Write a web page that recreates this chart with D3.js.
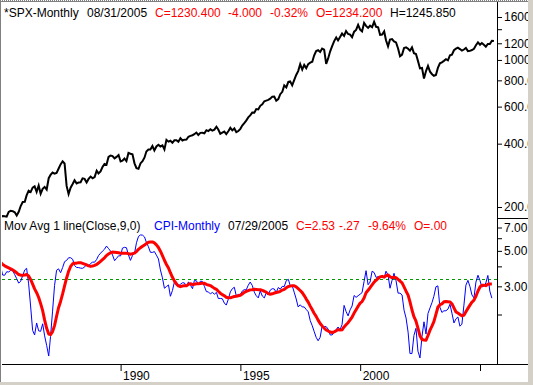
<!DOCTYPE html>
<html>
<head>
<meta charset="utf-8">
<script src="https://cdn.jsdelivr.net/npm/d3@7"></script>
<style>
  body { margin: 0; background: #fff; }
  svg { display: block; }
  text { font-family: "Liberation Sans", Arial, sans-serif; font-size: 12px; }
</style>
</head>
<body>
<script>
// monthly closes, Jan 1985 .. Aug 2005
var spxClose = [
  179.63, 181.18, 180.66, 179.83, 189.55, 191.85, 190.92, 188.63, 182.08, 189.82, 202.17, 211.28,
  211.78, 226.92, 238.90, 235.52, 247.35, 250.84, 236.12, 252.93, 231.32, 243.98, 249.22, 242.17,
  274.08, 284.20, 291.70, 288.36, 290.10, 304.00, 318.66, 329.80, 321.83, 251.79, 230.30, 247.08,
  257.07, 267.82, 258.89, 261.33, 262.16, 273.50, 272.02, 261.52, 271.91, 278.97, 273.70, 277.72,
  297.47, 288.86, 294.87, 309.64, 320.52, 317.98, 346.08, 351.45, 349.15, 340.36, 345.99, 353.40,
  329.08, 331.89, 339.94, 330.80, 361.23, 358.02, 356.15, 322.56, 306.05, 304.00, 322.22, 330.22,
  343.93, 367.07, 375.22, 375.34, 389.83, 371.16, 387.81, 395.43, 387.86, 392.46, 375.22, 417.09,
  408.79, 412.70, 403.69, 414.95, 415.35, 408.14, 424.21, 414.03, 417.80, 418.68, 431.35, 435.71,
  438.78, 443.38, 451.67, 440.19, 450.19, 450.53, 448.13, 463.56, 458.93, 467.83, 461.79, 466.45,
  481.61, 467.14, 445.77, 450.91, 456.50, 444.27, 458.26, 475.49, 462.69, 472.35, 453.69, 459.27,
  470.42, 487.39, 500.71, 514.71, 533.40, 544.75, 562.06, 561.88, 584.41, 581.50, 605.37, 615.93,
  636.02, 640.43, 645.50, 654.17, 669.12, 670.63, 639.95, 651.99, 687.33, 705.27, 757.02, 740.74,
  786.16, 790.82, 757.12, 801.34, 848.28, 885.14, 954.31, 899.47, 947.28, 914.62, 955.40, 970.43,
  980.28, 1049.34, 1101.75, 1111.75, 1090.82, 1133.84, 1120.67, 957.28, 1017.01, 1098.67, 1163.63, 1229.23,
  1279.64, 1238.33, 1286.37, 1335.18, 1301.84, 1372.71, 1328.72, 1320.41, 1282.71, 1362.93, 1388.91, 1469.25,
  1394.46, 1366.42, 1498.58, 1452.43, 1420.60, 1454.60, 1430.83, 1517.68, 1436.51, 1429.40, 1314.95, 1320.28,
  1366.01, 1239.94, 1160.33, 1249.46, 1255.82, 1224.42, 1211.23, 1133.58, 1040.94, 1059.78, 1139.45, 1148.08,
  1130.20, 1106.73, 1147.39, 1076.92, 1067.14, 989.82, 911.62, 916.07, 815.28, 885.76, 936.31, 879.82,
  855.70, 841.15, 848.18, 916.92, 963.59, 974.50, 990.31, 1008.01, 995.97, 1050.71, 1058.20, 1111.92,
  1131.13, 1144.94, 1126.21, 1107.30, 1120.68, 1140.84, 1101.72, 1104.24, 1114.58, 1130.20, 1173.82, 1211.92,
  1181.27, 1203.60, 1180.59, 1156.85, 1191.50, 1191.33, 1234.18, 1230.40
];

// CPI year-over-year %, dated Apr 1984 .. Jul 2005 (one month reporting lag)
var cpiYoY = [
  4.80, 4.56, 4.23, 4.22, 4.20, 4.29, 4.27, 4.26, 4.05, 3.95,
  3.53, 3.52, 3.70, 3.69, 3.77, 3.76, 3.55, 3.35, 3.14, 3.23, 3.51, 3.80,
  3.89, 3.11, 2.26, 1.59, 1.49, 1.77, 1.58, 1.57, 1.75, 1.47, 1.28, 1.10,
  1.46, 2.10, 3.03, 3.78, 3.86, 3.65, 3.93, 4.28, 4.36, 4.53, 4.53, 4.43,
  4.05, 3.94, 3.93, 3.90, 3.89, 3.96, 4.13, 4.02, 4.17, 4.25, 4.25, 4.42,
  4.67, 4.83, 4.98, 5.12, 5.36, 5.17, 4.98, 4.71, 4.34, 4.49, 4.66, 4.65,
  5.20, 5.26, 5.23, 4.71, 4.36, 4.67, 4.82, 5.62, 6.16, 6.29, 6.27, 6.11,
  5.65, 5.31, 4.90, 4.89, 4.95, 4.70, 4.45, 3.80, 3.39, 2.92, 2.99, 3.06,
  2.60, 2.82, 3.19, 3.18, 3.02, 3.09, 3.16, 3.15, 2.99, 3.20, 3.05, 2.90,
  3.26, 3.25, 3.09, 3.23, 3.22, 3.00, 2.78, 2.77, 2.69, 2.75, 2.68, 2.75,
  2.52, 2.52, 2.51, 2.36, 2.29, 2.49, 2.77, 2.90, 2.96, 2.61, 2.67, 2.67,
  2.80, 2.86, 2.85, 3.05, 3.19, 3.04, 2.76, 2.62, 2.54, 2.81, 2.61, 2.54,
  2.73, 2.65, 2.84, 2.90, 2.89, 2.75, 2.95, 2.88, 3.00, 2.99, 3.26, 3.32,
  3.04, 3.03, 2.76, 2.50, 2.23, 2.30, 2.23, 2.23, 2.15, 2.08, 1.83, 1.70,
  1.57, 1.44, 1.37, 1.44, 1.69, 1.68, 1.68, 1.62, 1.49, 1.49, 1.55, 1.61,
  1.67, 1.61, 1.73, 2.28, 2.09, 1.96, 2.14, 2.26, 2.63, 2.56, 2.62, 2.68,
  2.74, 3.22, 3.76, 3.07, 3.19, 3.73, 3.66, 3.41, 3.45, 3.45, 3.45, 3.39,
  3.73, 3.53, 2.92, 3.27, 3.62, 3.25, 2.72, 2.72, 2.65, 2.13, 1.90, 1.55,
  1.14, 1.14, 1.48, 1.64, 1.18, 1.07, 1.46, 1.80, 1.51, 2.03, 2.20, 2.38,
  2.60, 2.98, 3.02, 2.22, 2.06, 2.11, 2.11, 2.16, 2.32, 2.04, 1.77, 1.88,
  1.93, 1.69, 1.74, 2.29, 3.05, 3.27, 2.99, 2.65, 2.54, 3.19, 3.52, 3.26,
  2.97, 3.01, 3.15, 3.51, 2.80, 2.53
];

var maPeriod = 9;
var refLevel = 3.32;

var yearTicks = [1990, 1995, 2000, 2005];
var yearLabels = ["1990", "1995", "2000", ""];
var spxTicks = [1600, 1400, 1200, 1000, 800, 600, 400, 200];
var spxLabels = ["1600.0", "", "1200.0", "1000.0", "800.00", "600.00", "400.00", "200.00"];
var cpiTicks = [7, 6, 5, 4, 3, 2];
var cpiLabels = ["7.00", "", "5.00", "", "3.00", ""];

var topHeader = [
  {t: "*SPX-Monthly", c: "#000"}, {t: "08/31/2005", c: "#000"}, {t: "C=1230.400", c: "#f00"},
  {t: "-4.000", c: "#f00"}, {t: "-0.32%", c: "#f00"}, {t: "O=1234.200", c: "#f00"}, {t: "H=1245.850", c: "#000"}
];
var botHeader = [
  {t: "Mov Avg 1 line(Close,9,0)", c: "#000"}, {t: "CPI-Monthly", c: "#00f"}, {t: "07/29/2005", c: "#000"},
  {t: "C=2.53", c: "#f00"}, {t: "-.27", c: "#f00"}, {t: "-9.64%", c: "#f00"}, {t: "O=.00", c: "#f00"}
];
var topHeaderX = [4, 87, 155, 228, 270, 316, 390];
var botHeaderX = [4, 154, 228, 296, 339, 368, 414];

function monthEnd(y, m) { return new Date(y, m + 1, 0); }

var spx = spxClose.map(function(v, i) { return {date: monthEnd(1985, i), value: v}; });
var cpi = cpiYoY.map(function(v, i) { return {date: monthEnd(1984, 3 + i), value: v}; });
var cpiMA = cpi.map(function(d, i) {
  if (i < maPeriod - 1) return {date: d.date, value: null};
  return {date: d.date, value: d3.mean(cpiYoY.slice(i - maPeriod + 1, i + 1))};
});

var W = 533, H = 385;
var plotL = 2, plotR = 497, topY0 = 2, topY1 = 218, botY0 = 219, botY1 = 364;

var x = d3.scaleTime()
    .domain([new Date(1990, 0, 31), new Date(2005, 0, 31)])
    .range([120.6, 480]);
var yTop = d3.scaleLog().domain([1600, 200]).range([17, 207]);
var yBot = d3.scaleLog().domain([7, 2]).range([227.5, 314.5]);

var svg = d3.select("body").append("svg").attr("width", W).attr("height", H);
svg.append("rect").attr("width", W).attr("height", H).attr("fill", "#fff");

var defs = svg.append("defs");
defs.append("clipPath").attr("id", "clipTop").append("rect")
    .attr("x", plotL).attr("y", topY0).attr("width", plotR - plotL).attr("height", topY1 - topY0);
defs.append("clipPath").attr("id", "clipBot").append("rect")
    .attr("x", plotL).attr("y", botY0).attr("width", plotR - plotL).attr("height", botY1 - botY0);

// top panel: SPX
var lineTop = d3.line().x(function(d) { return x(d.date); }).y(function(d) { return yTop(d.value); });
svg.append("g").attr("clip-path", "url(#clipTop)")
  .append("path").datum(spx)
    .attr("d", lineTop)
    .attr("fill", "none").attr("stroke", "#000").attr("stroke-width", 2);

// bottom panel: CPI + moving average
var gBot = svg.append("g").attr("clip-path", "url(#clipBot)");
gBot.append("line")
    .attr("x1", plotL).attr("x2", plotR)
    .attr("y1", Math.round(yBot(refLevel)) + 0.5).attr("y2", Math.round(yBot(refLevel)) + 0.5)
    .attr("stroke", "#009900").attr("stroke-dasharray", "3,3");
var lineBot = d3.line()
    .defined(function(d) { return d.value != null; })
    .x(function(d) { return x(d.date); })
    .y(function(d) { return yBot(d.value); });
gBot.append("path").datum(cpi)
    .attr("d", lineBot)
    .attr("fill", "none").attr("stroke", "#00f").attr("stroke-width", 1);
gBot.append("path").datum(cpiMA)
    .attr("d", lineBot)
    .attr("fill", "none").attr("stroke", "#f00").attr("stroke-width", 3)
    .attr("stroke-linejoin", "round");

// axes
var axTop = svg.append("g").attr("transform", "translate(" + plotR + ",0)")
    .call(d3.axisRight(yTop).tickValues(spxTicks).tickSize(5).tickPadding(2)
      .tickFormat(function(d, i) { return spxLabels[i]; }));
var axBot = svg.append("g").attr("transform", "translate(" + plotR + ",0)")
    .call(d3.axisRight(yBot).tickValues(cpiTicks).tickSize(5).tickPadding(2)
      .tickFormat(function(d, i) { return cpiLabels[i]; }));
var axX = svg.append("g").attr("transform", "translate(0," + botY1 + ")")
    .call(d3.axisBottom(x).tickValues(yearTicks.map(function(y) { return new Date(y, 0, 31); }))
      .tickSize(7).tickPadding(0)
      .tickFormat(function(d, i) { return yearLabels[i]; }));
[axTop, axBot, axX].forEach(function(g) {
  g.select(".domain").remove();
  g.attr("font-size", null).attr("font-family", null);
  g.selectAll(".tick line").attr("stroke", "#000");
  g.selectAll("text").attr("fill", "#000");
});
axX.selectAll("text").attr("text-anchor", "start").attr("x", 2);

svg.append("line").attr("x1", plotR + 0.5).attr("x2", plotR + 0.5).attr("y1", topY0).attr("y2", botY1)
    .attr("stroke", "#000");
svg.append("line").attr("x1", plotL).attr("x2", W).attr("y1", botY1 + 0.5).attr("y2", botY1 + 0.5)
    .attr("stroke", "#000");
svg.append("line").attr("x1", plotR).attr("x2", W).attr("y1", topY1 + 0.5).attr("y2", topY1 + 0.5)
    .attr("stroke", "#000");

// headers
svg.append("g").selectAll("text").data(topHeader).join("text")
    .attr("x", function(d, i) { return topHeaderX[i]; }).attr("y", 17)
    .attr("fill", function(d) { return d.c; }).text(function(d) { return d.t; });
svg.append("g").selectAll("text").data(botHeader).join("text")
    .attr("x", function(d, i) { return botHeaderX[i]; }).attr("y", 230)
    .attr("fill", function(d) { return d.c; }).text(function(d) { return d.t; });

// window frame
svg.append("rect").attr("x", 528).attr("y", 0).attr("width", 5).attr("height", H).attr("fill", "#d4d0c8");
svg.append("rect").attr("x", 0).attr("y", 382).attr("width", W).attr("height", 3).attr("fill", "#d4d0c8");
svg.append("line").attr("x1", 0).attr("x2", 528).attr("y1", 0.5).attr("y2", 0.5)
    .attr("stroke", "#808080").attr("stroke-dasharray", "1,1");
svg.append("line").attr("x1", 0).attr("x2", 528).attr("y1", 1.5).attr("y2", 1.5).attr("stroke", "#808080");
svg.append("line").attr("x1", 0.5).attr("x2", 0.5).attr("y1", 0).attr("y2", 382).attr("stroke", "#808080");
</script>
</body>
</html>
